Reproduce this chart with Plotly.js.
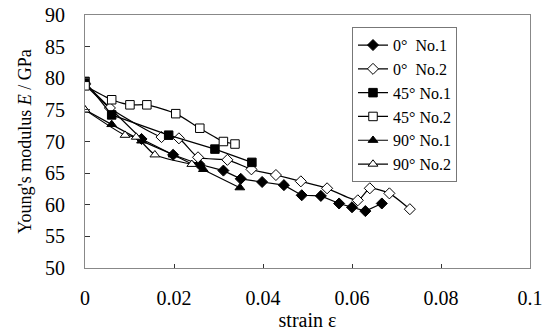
<!DOCTYPE html>
<html>
<head>
<meta charset="utf-8">
<script src="https://cdn.plot.ly/plotly-3.0.1.min.js"></script>
<style>html,body{margin:0;padding:0;background:#fff;}#chart{width:552px;height:333px;}</style>
</head>
<body>
<div id="chart"></div>
<script>
// Series names
const names = ["0°\u00a0 No.1", "0°\u00a0 No.2", "45° No.1", "45° No.2", "90° No.1", "90° No.2"];

// 0° No.1
const strain0No1 = [0, 0.0127, 0.0198, 0.0257, 0.0311, 0.035, 0.0398, 0.0447, 0.0487, 0.053, 0.0571, 0.060, 0.063, 0.0667];
const E0No1      = [79.2, 70.4, 67.9, 66.4, 65.4, 64.1, 63.6, 63.1, 61.5, 61.4, 60.2, 59.6, 59.0, 60.2];

// 0° No.2
const strain0No2 = [0, 0.0056, 0.0172, 0.0211, 0.0254, 0.032, 0.0374, 0.0429, 0.0485, 0.0544, 0.0613, 0.064, 0.0684, 0.073];
const E0No2      = [79.0, 75.3, 70.7, 70.5, 67.5, 67.1, 65.6, 64.7, 63.7, 62.6, 60.7, 62.6, 61.8, 59.3];

// 45° No.1
const strain45No1 = [0, 0.006, 0.0188, 0.0292, 0.0375];
const E45No1      = [79.5, 74.2, 71.0, 68.8, 66.7];

// 45° No.2
const strain45No2 = [0, 0.006, 0.0101, 0.0139, 0.0204, 0.0258, 0.0311, 0.0337];
const E45No2      = [78.8, 76.6, 75.8, 75.8, 74.4, 72.1, 70.0, 69.6];

// 90° No.1
const strain90No1 = [0, 0.006, 0.0127, 0.0198, 0.0266, 0.0348];
const E90No1      = [75.0, 72.7, 70.1, 67.9, 65.6, 62.7];

// 90° No.2
const strain90No2 = [0, 0.009, 0.0115, 0.0157, 0.024];
const E90No2      = [75.0, 71.0, 70.7, 67.9, 66.4];

// Axis ticks
const xTicks = [0, 0.02, 0.04, 0.06, 0.08, 0.1];
const xTickText = ["0", "0.02", "0.04", "0.06", "0.08", "0.1"];
const yTicks = [50, 55, 60, 65, 70, 75, 80, 85, 90];

const xs = [strain0No1, strain0No2, strain45No1, strain45No2, strain90No1, strain90No2];
const ys = [E0No1, E0No2, E45No1, E45No2, E90No1, E90No2];
const symbols = ["diamond", "diamond", "square", "square", "triangle-up", "triangle-up"];
const filled = [true, false, true, false, true, false];
const shapes = ["linear", "spline", "linear", "spline", "linear", "spline"];

const traces = names.map((n, i) => ({
  x: xs[i], y: ys[i], name: n, type: "scatter", mode: "lines+markers",
  line: {color: "#000", width: 1.2, shape: shapes[i], smoothing: 0.6},
  marker: {symbol: symbols[i], size: 8.5, color: filled[i] ? "#000" : "#fff",
           line: {color: "#000", width: 1}}
}));

const font = {family: "Liberation Serif, Times New Roman, serif", color: "#000"};

const layout = {
  width: 552, height: 333,
  margin: {l: 85, r: 22, t: 15, b: 65},
  paper_bgcolor: "#fff", plot_bgcolor: "#fff",
  font: Object.assign({size: 18}, font),
  showlegend: true,
  legend: {
    x: 0.6, y: 0.952, xanchor: "left", yanchor: "top",
    bgcolor: "#fff", bordercolor: "#777", borderwidth: 1,
    font: Object.assign({size: 16}, font),
    itemwidth: 30
  },
  xaxis: {
    range: [0, 0.1], tickvals: xTicks, ticktext: xTickText,
    ticks: "inside", ticklen: 4, tickcolor: "#333",
    showline: true, linecolor: "#888", linewidth: 1, mirror: true,
    showgrid: false, zeroline: false,
    tickfont: Object.assign({size: 20}, font),
    ticklabelstandoff: 12,
    title: {text: "strain ε", font: Object.assign({size: 20}, font), standoff: 2}
  },
  yaxis: {
    range: [50, 90], tickvals: yTicks,
    ticks: "inside", ticklen: 5, tickcolor: "#333",
    showline: true, linecolor: "#888", linewidth: 1, mirror: true,
    showgrid: false, zeroline: false,
    tickfont: Object.assign({size: 20}, font),
    ticklabelstandoff: 15,
    title: {text: "Young's modulus <i>E</i> / GPa", font: Object.assign({size: 18}, font), standoff: 8}
  }
};

Plotly.newPlot("chart", traces, layout, {displayModeBar: false, staticPlot: true});
</script>
</body>
</html>
